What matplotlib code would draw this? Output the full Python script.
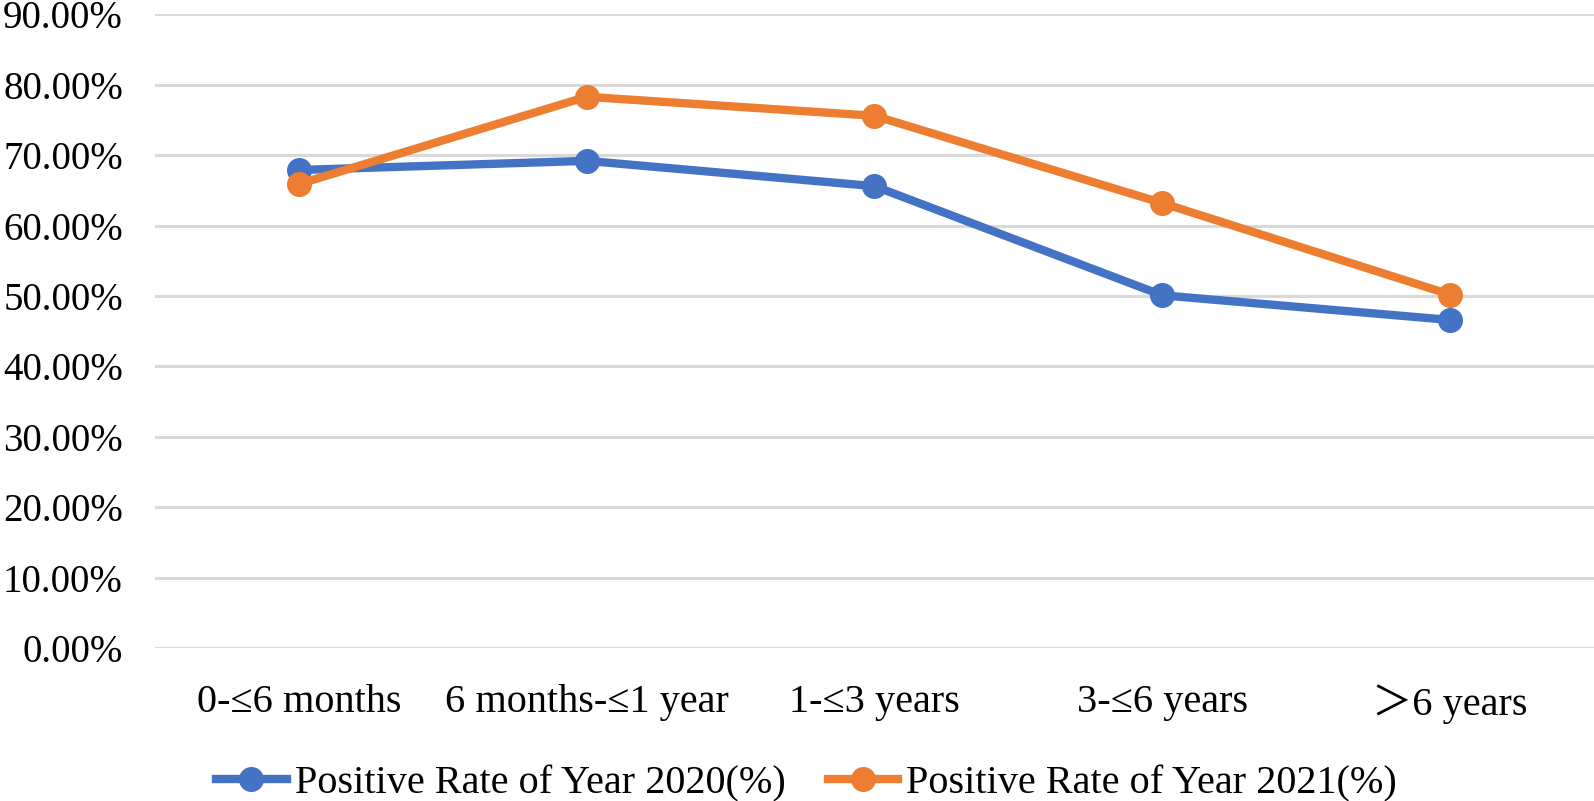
import numpy as np
import matplotlib
matplotlib.use('Agg')
import matplotlib.pyplot as plt
from matplotlib.ticker import FuncFormatter

plt.rcParams['font.family'] = ['Liberation Serif', 'Noto Sans CJK SC', 'DejaVu Serif']

categories = ['0-≤6 months', '6 months-≤1 year', '1-≤3 years', '3-≤6 years', '＞6 years']
rate_2020 = [67.9, 69.2, 65.6, 50.1, 46.6]
rate_2021 = [65.9, 78.3, 75.6, 63.2, 50.2]
yticks = [0, 10, 20, 30, 40, 50, 60, 70, 80, 90]

fig = plt.figure(figsize=(15.94, 8.01), dpi=100)
ax = fig.add_axes([0.0972, 0.191, 0.9028, 0.791])

x = np.arange(len(categories))
ax.plot(x, rate_2020, color='#4472C4', linewidth=6, marker='o', markersize=17,
        label='Positive Rate of Year 2020(%)', zorder=3)
ax.plot(x, rate_2021, color='#ED7D31', linewidth=6, marker='o', markersize=17,
        label='Positive Rate of Year 2021(%)', zorder=3)

ax.set_xlim(-0.5, len(categories) - 0.5)
ax.set_ylim(0, 90)
ax.set_yticks(yticks)
ax.yaxis.set_major_formatter(FuncFormatter(lambda v, p: '%.2f%%' % v))
ax.set_xticks(x)
ax.set_xticklabels(categories, fontsize=29)
ax.tick_params(axis='y', labelsize=28, length=0, pad=23)
ax.tick_params(axis='x', length=0, pad=26)
ax.grid(True, axis='y', color='#D9D9D9', linewidth=2.2)
ax.set_axisbelow(True)
for s in ax.spines.values():
    s.set_visible(False)

fig.legend(loc='lower center', bbox_to_anchor=(0.506, -0.047), ncol=2, frameon=False,
           fontsize=29, handlelength=1.75, handletextpad=0.2, columnspacing=1.05)

fig.savefig('out.png', dpi=100)
